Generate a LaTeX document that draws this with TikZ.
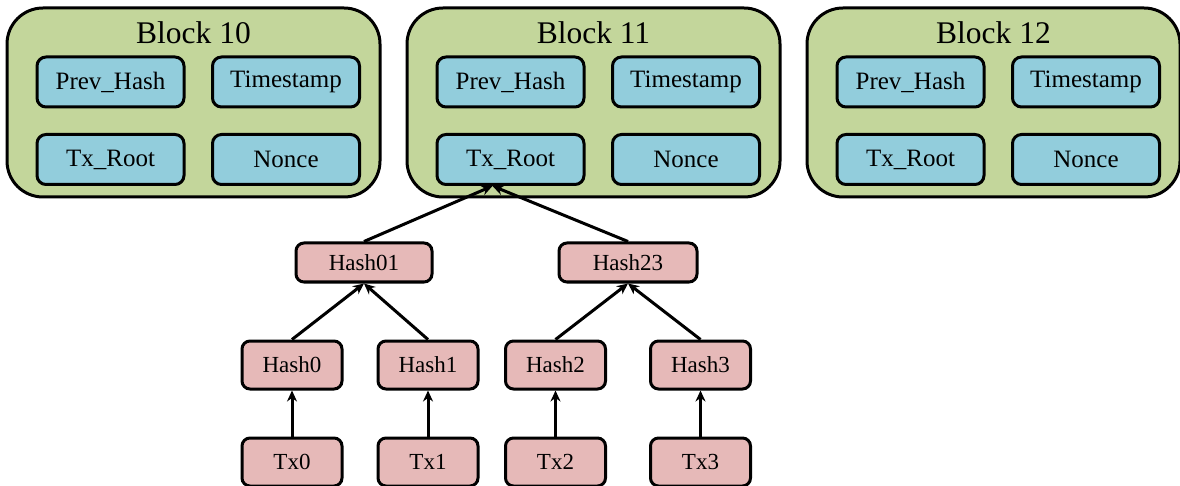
\documentclass[tikz,border=0pt]{standalone}
\usepackage{fontspec}
\setmainfont{Liberation Serif}
\usetikzlibrary{arrows.meta}
\definecolor{blockgreen}{HTML}{C3D69B}
\definecolor{fieldblue}{HTML}{92CDDC}
\definecolor{hashpink}{HTML}{E6B9B8}
\tikzset{
  block/.style={draw=black, line width=3pt, fill=blockgreen, rounded corners=36pt,
    minimum width=373pt, minimum height=189pt, inner sep=0pt},
  blocktitle/.style={font=\fontsize{31.5}{36}\selectfont, inner sep=0pt},
  field/.style={draw=black, line width=3pt, fill=fieldblue, rounded corners=9pt,
    minimum width=147pt, minimum height=50pt, inner sep=0pt,
    font=\fontsize{25}{30}\selectfont},
  hashbox/.style={draw=black, line width=3pt, fill=hashpink, rounded corners=8pt,
    minimum width=100pt, minimum height=48pt, inner sep=0pt,
    font=\fontsize{23}{28}\selectfont},
  link/.style={line width=3pt, -{Stealth[length=11pt,width=10pt]}},
}
\begin{document}
\begin{tikzpicture}[x=1pt,y=-1pt]
\useasboundingbox (0,0) rectangle (1180,486);
% the three blocks of the chain
\foreach \n/\ox in {10/0,11/400,12/800}{
  \node[block] (b\n) at (193.5+\ox,102.5) {};
  \node[blocktitle] (b\n t) at (193.5+\ox,33) {Block \n};
  \node[field] (b\n ph) at (110.5+\ox,82) {Prev\_Hash};
  \node[field] (b\n ts) at (286+\ox,82) {Timestamp};
  \node[field] (b\n tx) at (110.5+\ox,159.5) {Tx\_Root};
  \node[field] (b\n n) at (286+\ox,159.5) {Nonce};
}
% Merkle tree under block 11
\node[hashbox, minimum width=136pt, minimum height=39pt] (h01) at (364,262.5) {Hash01};
\node[hashbox, minimum width=138pt, minimum height=39pt] (h23) at (628,262.5) {Hash23};
\node[hashbox] (h0) at (292,365) {Hash0};
\node[hashbox] (h1) at (428,365) {Hash1};
\node[hashbox] (h2) at (555.5,365) {Hash2};
\node[hashbox] (h3) at (700.5,365) {Hash3};
\node[hashbox] (t0) at (292,462) {Tx0};
\node[hashbox] (t1) at (428,462) {Tx1};
\node[hashbox] (t2) at (555.5,462) {Tx2};
\node[hashbox] (t3) at (700.5,462) {Tx3};
\coordinate (rootin) at ([xshift=-18pt]b11tx.south);
\draw[link] (h01.north) -- (rootin);
\draw[link] (h23.north) -- (rootin);
\draw[link] (h0.north) -- (h01.south);
\draw[link] (h1.north) -- (h01.south);
\draw[link] (h2.north) -- (h23.south);
\draw[link] (h3.north) -- (h23.south);
\draw[link] (t0) -- (h0);
\draw[link] (t1) -- (h1);
\draw[link] (t2) -- (h2);
\draw[link] (t3) -- (h3);
\end{tikzpicture}
\end{document}
